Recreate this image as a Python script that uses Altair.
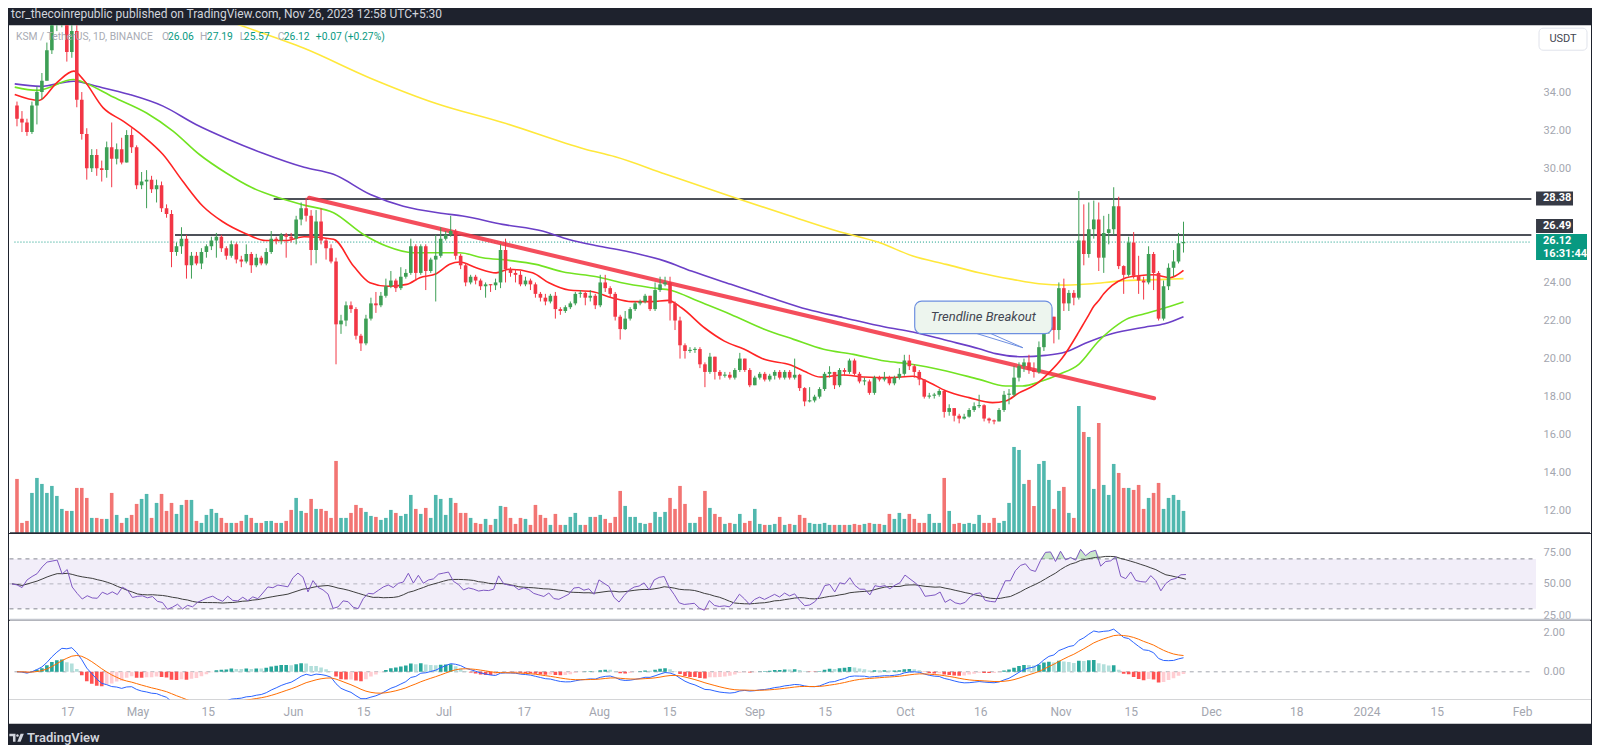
import numpy as np
import pandas as pd
import altair as alt
from datetime import datetime, timedelta, timezone

BASE = datetime(2023, 4, 6, tzinfo=timezone.utc)


def ms(d):
    return int((BASE + timedelta(days=float(d))).timestamp() * 1000)


# ---------------- data ----------------
first_open = 33.3
closes = [
    32.6, 32.4, 31.9, 33.3, 34.0, 34.6, 36.2, 37.6, 37.9, 38.2,
    36.1, 37.2, 33.6, 31.8, 30.0, 30.7, 30.0, 29.9, 31.1, 30.5,
    31.0, 30.3, 31.75, 31.1, 29.1, 29.3, 29.4, 28.9, 29.1, 27.9,
    27.6, 25.6, 25.9, 26.3, 24.9, 25.4, 25.0, 25.6, 25.9, 26.2,
    26.4, 25.8, 25.4, 26.0, 25.2, 25.1, 25.5, 24.9, 25.3, 25.0,
    25.6, 26.3, 26.2, 26.5, 26.4, 26.3, 27.3, 27.9, 27.5, 25.7,
    27.2, 26.2, 25.8, 25.1, 21.8, 22.0, 22.8, 22.6, 21.2, 20.8,
    22.1, 22.9, 22.8, 23.3, 23.8, 24.1, 23.7, 24.3, 24.5, 25.9,
    24.5, 25.9, 24.6, 25.2, 25.4, 26.3, 26.5, 26.7, 25.4, 24.9,
    24.0, 24.3, 24.1, 23.8, 23.9, 23.85, 24.0, 25.7, 24.7, 24.5,
    24.4, 23.9, 24.1, 23.9, 23.4, 23.2, 23.0, 23.3, 22.6, 22.5,
    22.7, 22.9, 23.4, 23.45, 23.2, 23.3, 22.8, 24.0, 23.7, 23.4,
    22.2, 21.55, 22.1, 22.6, 22.9, 23.0, 23.3, 22.6, 23.6, 23.9,
    24.0, 22.9, 22.0, 20.7, 20.4, 20.45, 20.5, 19.7, 19.3, 20.1,
    19.3, 19.1, 19.15, 19.0, 19.4, 20.0, 19.4, 18.6, 19.0, 19.2,
    18.9, 19.1, 19.3, 19.0, 19.3, 19.0, 19.15, 18.45, 17.75, 17.8,
    18.0, 18.4, 19.2, 19.3, 18.6, 19.4, 19.3, 19.9, 19.2, 18.8,
    18.8, 18.2, 19.0, 18.9, 19.0, 18.7, 19.0, 19.2, 19.9, 19.6,
    19.3, 18.9, 18.0, 18.05, 18.1, 18.3, 17.2, 17.4, 17.0, 16.85,
    16.95, 17.3, 17.5, 17.55, 16.85, 16.75, 16.7, 17.3, 18.1, 18.1,
    19.0, 19.6, 19.8, 19.4, 19.3, 20.6, 22.1, 22.2, 21.5, 23.7,
    22.9, 23.45, 23.2, 26.2, 25.5, 26.8, 27.3, 25.3, 26.6, 26.8,
    28.0, 24.86, 24.4, 26.1, 24.35, 24.1, 24.0, 25.5, 24.5, 22.1,
    23.8, 24.77, 25.1, 26.06, 26.12,
]
highs = [
    33.5, 33.0, 32.6, 33.5, 34.3, 35.0, 36.6, 38.5, 38.8, 39.0,
    38.5, 38.0, 37.6, 34.0, 32.1, 31.0, 31.0, 30.4, 31.4, 32.4,
    31.3, 31.6, 32.0, 32.1, 31.2, 29.8, 29.9, 29.6, 29.4, 29.3,
    28.1, 27.8, 26.1, 26.9, 26.5, 25.6, 25.6, 25.8, 26.0, 26.4,
    26.6, 26.5, 25.9, 26.2, 26.1, 25.4, 26.0, 25.6, 25.5, 25.4,
    25.8, 26.7, 26.4, 26.6, 26.6, 26.6, 27.5, 28.2, 28.45, 27.8,
    27.8, 27.9, 26.3, 26.0, 25.3, 22.3, 23.0, 23.0, 22.7, 21.3,
    22.3, 23.2, 23.5, 23.5, 24.2, 24.6, 24.2, 24.8, 24.7, 26.3,
    26.0, 26.0, 26.0, 25.3, 26.5, 26.9, 26.7, 27.5, 26.8, 25.5,
    25.0, 24.4, 24.4, 24.2, 24.0, 23.9, 24.2, 26.0, 26.3, 24.8,
    24.7, 24.6, 24.3, 24.2, 24.0, 23.5, 23.4, 23.4, 23.5, 22.7,
    22.8, 23.0, 23.5, 23.6, 23.5, 23.6, 23.4, 24.4, 24.4, 23.8,
    23.5, 22.3, 22.5, 22.7, 23.0, 23.1, 23.4, 23.3, 24.0, 24.3,
    24.3, 24.3, 23.0, 22.2, 20.8, 20.6, 20.6, 20.6, 19.8, 20.3,
    20.1, 19.4, 19.3, 19.3, 19.5, 20.3, 20.0, 19.5, 19.1, 19.3,
    19.3, 19.2, 19.4, 19.4, 19.4, 19.4, 20.0, 19.2, 18.5, 18.5,
    18.1, 18.5, 19.3, 19.6, 19.3, 19.5, 19.5, 20.0, 20.0, 19.3,
    19.0, 18.9, 19.1, 19.1, 19.3, 19.1, 19.1, 19.5, 20.2, 20.2,
    19.7, 19.4, 18.9, 18.2, 18.2, 18.4, 18.3, 17.6, 17.4, 17.1,
    17.1, 17.4, 17.7, 18.1, 17.6, 16.9, 16.8, 17.4, 18.3, 18.4,
    19.6, 19.8, 20.0, 20.2, 19.8, 20.9, 22.3, 22.7, 22.2, 24.0,
    24.2, 23.6, 23.6, 28.8, 28.1, 28.2, 28.3, 28.2, 27.5, 27.6,
    29.0, 28.5, 24.9, 26.4, 26.65, 25.4, 24.3, 25.9, 25.6, 24.6,
    24.1, 25.0, 25.7, 26.6, 27.19,
]
lows = [
    32.2, 31.9, 31.7, 31.8, 32.3, 33.6, 34.6, 36.0, 37.2, 37.4,
    35.6, 35.8, 33.2, 31.5, 29.4, 29.8, 29.6, 29.3, 29.5, 29.0,
    30.2, 30.2, 30.3, 30.8, 28.9, 28.9, 27.9, 28.7, 28.2, 27.7,
    27.4, 24.8, 25.4, 25.5, 24.2, 24.2, 24.9, 24.7, 25.3, 25.7,
    25.3, 25.6, 25.2, 25.3, 25.0, 24.8, 25.0, 24.5, 24.8, 24.9,
    24.9, 25.5, 26.0, 26.0, 25.3, 26.1, 26.0, 27.0, 27.2, 24.9,
    25.0, 26.0, 25.2, 25.0, 19.7, 21.3, 21.7, 22.4, 21.0, 20.4,
    20.7, 22.0, 22.4, 22.7, 23.2, 23.7, 23.5, 23.6, 24.2, 24.4,
    24.1, 24.4, 23.6, 24.5, 23.0, 25.3, 26.2, 26.4, 25.2, 24.7,
    23.8, 23.9, 23.9, 23.6, 23.2, 23.5, 23.6, 23.7, 24.0, 24.3,
    24.0, 23.8, 23.8, 23.6, 23.2, 23.0, 22.8, 22.9, 22.1, 22.3,
    22.4, 22.6, 22.8, 23.2, 22.8, 23.0, 22.6, 22.7, 23.5, 23.2,
    22.0, 21.0, 21.5, 22.0, 22.5, 22.8, 22.9, 22.5, 22.5, 23.5,
    23.8, 22.0, 21.5, 20.0, 20.0, 20.3, 20.3, 19.5, 18.5, 19.2,
    18.9, 18.9, 19.0, 18.9, 18.9, 19.3, 19.3, 18.5, 18.6, 18.9,
    18.8, 18.8, 18.9, 18.9, 18.9, 18.9, 18.9, 18.3, 17.5, 17.7,
    17.7, 17.9, 18.3, 19.0, 18.4, 18.5, 19.1, 19.2, 19.1, 18.7,
    18.6, 18.1, 18.1, 18.8, 18.8, 18.6, 18.6, 18.9, 19.1, 19.4,
    19.0, 18.6, 17.9, 17.9, 17.9, 18.0, 16.9, 17.0, 16.7, 16.6,
    16.8, 16.9, 17.2, 17.4, 16.7, 16.6, 16.55, 16.7, 17.2, 17.6,
    18.0, 18.8, 19.3, 19.2, 19.0, 19.2, 20.4, 21.3, 20.8, 21.0,
    22.5, 22.5, 22.8, 23.1, 24.9, 25.3, 26.3, 24.6, 24.5, 26.0,
    26.5, 24.7, 23.4, 24.3, 24.2, 23.4, 23.1, 23.9, 23.6, 22.0,
    22.0, 23.6, 24.3, 25.0, 25.57,
]
volumes = [
    54, 10, 12, 40, 55, 49, 40, 47, 37, 24,
    22, 22, 45, 45, 35, 15, 15, 14, 14, 40,
    18, 10, 15, 18, 29, 34, 39, 15, 30, 39,
    22, 30, 19, 28, 33, 33, 12, 10, 18, 24,
    20, 15, 10, 10, 10, 12, 18, 15, 10, 10,
    12, 12, 10, 10, 12, 23, 35, 22, 20, 34,
    24, 24, 22, 15, 72, 15, 15, 20, 28, 25,
    21, 17, 16, 13, 15, 23, 20, 17, 19, 38,
    24, 19, 25, 15, 38, 34, 18, 35, 30, 20,
    20, 15, 10, 9, 14, 8, 14, 27, 26, 15,
    9, 15, 14, 8, 28, 18, 15, 8, 19, 8,
    8, 16, 20, 8, 8, 16, 16, 18, 14, 10,
    16, 42, 27, 16, 16, 10, 9, 10, 21, 16,
    21, 35, 24, 47, 29, 10, 10, 16, 42, 25,
    19, 16, 9, 10, 9, 19, 10, 12, 24, 9,
    8, 8, 9, 16, 8, 9, 8, 18, 15, 10,
    9, 9, 10, 8, 8, 8, 8, 8, 9, 8,
    9, 10, 9, 9, 8, 19, 14, 20, 14, 19,
    14, 10, 10, 19, 10, 10, 55, 22, 9, 10,
    9, 10, 9, 18, 10, 10, 15, 10, 12, 30,
    86, 83, 49, 53, 27, 69, 72, 53, 24, 42,
    46, 20, 15, 127, 101, 96, 44, 110, 48, 38,
    69, 60, 45, 45, 43, 48, 24, 35, 40, 50,
    24, 35, 38, 33, 22,
]

ema20_days = [-0.45, 4.4, 8, 11.4, 13.3, 17.3, 21.3, 25.3, 29.3, 33.3, 37.3, 41.2, 45.9, 49.9, 53.8,
              57.6, 63.5, 67.5, 70.8, 74.2, 78.2, 80.8, 84.1, 86.8, 88.8, 92.1, 96.1, 98.7, 103.4,
              106.7, 110.7, 115.3, 119.3, 123.3, 127.3, 130.6, 133.3, 137.9, 141.9, 145.9, 149.9,
              155.2, 157.8, 161.2, 165.8, 169.8, 175, 179.7, 183.1, 186.4, 191, 195.7, 198.3, 201,
              204.3, 207, 209.6, 213, 214, 215, 216, 217, 218, 219.7, 222, 225, 228, 231.3, 234]
ema20_vals = [33.87, 33.56, 34.5, 35.1, 34.66, 33.17, 32.47, 31.69, 30.72, 29.3, 28.0, 27.2, 26.56, 26.2, 26.2,
              26.4, 26.27, 24.86, 23.98, 23.8, 23.9, 24.25, 24.46, 24.95, 25.07, 24.77, 24.5, 24.69, 24.51,
              23.98, 23.6, 23.52, 23.2, 22.99, 22.99, 23.06, 22.67, 21.62, 20.92, 20.49, 19.96,
              19.66, 19.35, 19.03, 19.14, 19.03, 19.0, 19.07, 18.73, 18.3, 17.95, 17.69, 17.77, 18.2,
              18.63, 19.25, 20.0, 21.4, 21.85, 22.3, 22.75, 23.05, 23.4, 23.85, 24.2, 24.35, 24.4, 24.25, 24.63]
ema50_days = [-0.45, 4.05, 11.35, 14, 19.3, 26, 31.3, 36.6, 41.9, 47.2, 52.5, 57.6, 63.5, 69.5, 74.2,
              79.5, 84.8, 88.8, 93.4, 98.7, 104.1, 109.4, 116.3, 121.3, 127.3, 131.3, 136.6, 143.2,
              149.9, 155.8, 161.8, 167.8, 174.1, 179.1, 186.4, 193, 198.3, 201.7, 205.6, 209, 213,
              216.9, 220.9, 222.5, 226.2, 229.5, 234]
ema50_vals = [34.26, 34.09, 34.66, 34.44, 33.74, 32.9, 31.95, 30.72, 29.76, 28.97, 28.45, 28.06, 27.66, 26.52, 25.9,
              25.56, 25.56, 25.56, 25.3, 25.16, 24.95, 24.56, 24.3, 23.98, 23.72, 23.58, 23.02, 22.32,
              21.54, 21.01, 20.49, 20.22, 19.87, 19.72, 19.35, 18.91, 18.56, 18.56, 18.82, 19.17, 19.7,
              20.9, 21.8, 22.06, 22.35, 22.6, 22.97]
ema100_days = [-0.45, 4.7, 11.35, 16, 22.6, 29.3, 35.9, 42.6, 49.2, 57.6, 63.5, 70.9, 77.5, 85.5, 89.4,
               97.4, 105.4, 110.7, 116.3, 122, 130, 135.3, 143.2, 151.2, 158.5, 165.8, 174.1, 179.7,
               186.4, 193, 196.3, 201.7, 206.3, 210.3, 214.3, 219.6, 226.2, 230.2, 234]
ema100_vals = [34.43, 34.3, 34.57, 34.3, 33.87, 33.26, 32.3, 31.5, 30.8, 30.05, 29.68, 28.62, 28.0, 27.62, 27.49,
               27.05, 26.7, 26.26, 25.93, 25.65, 25.12, 24.6, 23.9, 23.2, 22.59, 22.15, 21.66, 21.4,
               20.96, 20.52, 20.26, 20.1, 20.17, 20.35, 20.8, 21.3, 21.65, 21.83, 22.2]
ema200_days = [30, 44.2, 57.6, 70.9, 84.1, 97.4, 114, 120, 130, 144, 155, 164.5, 173.1, 179.7, 186.4,
               193, 199.7, 205, 210.3, 215.6, 220.9, 230.2, 234]
ema200_vals = [38.9, 37.56, 36.3, 34.73, 33.4, 32.4, 31.0, 30.6, 29.7, 28.45, 27.5, 26.7, 26.08, 25.39, 24.95,
               24.51, 24.16, 23.93, 23.86, 23.93, 24.07, 24.16, 24.2]

level_start_days = [51.5, 31.7]
level_vals = [28.38, 26.49]
trend_days = [58.6, 228.1]
trend_vals = [28.45, 17.92]
note_days = [180.08, 207.63]
note_vals = [23.02, 21.31]
note_tail_days = [192.6, 195.4, 201.8]
note_tail_vals = [21.31, 21.31, 20.57]

x_tick_dates = ["2023-04-17", "2023-05-01", "2023-05-15", "2023-06-01", "2023-06-15", "2023-07-01",
                "2023-07-17", "2023-08-01", "2023-08-15", "2023-09-01", "2023-09-15", "2023-10-01",
                "2023-10-16", "2023-11-01", "2023-11-15", "2023-12-01", "2023-12-18", "2024-01-01",
                "2024-01-15", "2024-02-01"]
price_ticks = [12, 14, 16, 18, 20, 22, 24, 30, 32, 34]

# ---------------- derived tables ----------------
n = len(closes)
opens = [first_open] + closes[:-1]
UP, DN = "#3d9f55", "#f23645"
W = 1583
DAY_LEFT, DAY_RIGHT, DAY_EDGE = -0.598, 314.74, 303.78
LINE_START = -0.5

cdf = pd.DataFrame({"t": [ms(d) for d in range(n)], "o": opens, "c": closes,
                    "h": highs, "l": lows, "v": volumes})
cdf["h"] = cdf[["h", "o", "c"]].max(axis=1)
cdf["l"] = cdf[["l", "o", "c"]].min(axis=1)
cdf["bl"] = cdf[["o", "c"]].min(axis=1)
cdf["bh"] = np.maximum(cdf[["o", "c"]].max(axis=1), cdf["bl"] + 0.06)
cdf["col"] = np.where(cdf["c"] >= cdf["o"], UP, DN)
cdf["vcol"] = np.where(cdf["c"] >= cdf["o"], "#26a69a", "#ef5350")

# RSI 14 (Wilder) and its 14 SMA
cs = np.array(closes, dtype=float)
ag, al = 0.45, 0.45
rsi = []
for i in range(n):
    if i > 0:
        dlt = cs[i] - cs[i - 1]
        ag = (ag * 13 + max(dlt, 0.0)) / 14
        al = (al * 13 + max(-dlt, 0.0)) / 14
    rsi.append(100 - 100 / (1 + ag / al))
rdf = pd.DataFrame({"t": cdf["t"], "rsi": rsi})
rdf["rma"] = rdf["rsi"].rolling(14, min_periods=1).mean()
rdf["ob"] = np.maximum(rdf["rsi"], 70)
rdf["os"] = np.minimum(rdf["rsi"], 30)
rdf["y70"] = 70
rdf["y30"] = 30

# MACD 12/26/9
s = pd.Series(cs)
macd = s.ewm(span=12, adjust=False).mean() - s.ewm(span=26, adjust=False).mean()
sig = macd.ewm(span=9, adjust=False).mean()
hist = macd - sig
prev = hist.shift(1).fillna(0)
hcol = np.where(hist >= 0, np.where(hist >= prev, "#26a69a", "#b2dfdb"),
                np.where(hist < prev, "#ff5252", "#ffcdd2"))
mdf = pd.DataFrame({"t": cdf["t"], "macd": macd, "sig": sig, "hist": hist, "hc": hcol})


def ma_df(days, vals):
    return pd.DataFrame({"t": [ms(d) for d in days], "v": vals})


ONE = pd.DataFrame({"k": [0]})

# ---------------- scales / axes ----------------
XS = alt.Scale(type="utc", domain=[ms(DAY_LEFT), ms(DAY_RIGHT)], nice=False)
YP = alt.Scale(domain=[10.845, 37.51], nice=False, zero=False)
YV = alt.Scale(domain=[0, 508], nice=False, zero=True)
YR = alt.Scale(domain=[21.2, 90], nice=False, zero=False)
YM = alt.Scale(domain=[-1.436, 2.615], nice=False, zero=False)

AXS = dict(domain=False, ticks=False, grid=False, labelColor="#a3a6af", labelFontSize=11,
           labelFont="Roboto", title=None, labelPadding=7, offset=-55, orient="right",
           format=".2f", labelOverlap=False)
PA = alt.Axis(values=price_ticks, **AXS)
RA = alt.Axis(values=[25, 50, 75], **AXS)
MAX = alt.Axis(values=[0, 2], **AXS)


def X(field="t"):
    return alt.X(f"{field}:T", scale=XS, axis=None)


def YPr(field):
    return alt.Y(f"{field}:Q", scale=YP, axis=PA)


# ---------------- main price panel ----------------
lv = pd.DataFrame({"x1": [ms(d) for d in level_start_days], "x2": [ms(DAY_EDGE)] * 2, "p": level_vals})
levels = alt.Chart(lv).mark_rule(color="#131722", strokeWidth=1.6).encode(
    x=X("x1"), x2="x2:T", y=YPr("p"))
cur = alt.Chart(pd.DataFrame({"x1": [ms(LINE_START)], "x2": [ms(DAY_EDGE)], "p": [closes[-1]]})).mark_rule(
    color="#089981", strokeWidth=1, strokeDash=[1, 2]).encode(x=X("x1"), x2="x2:T", y=YPr("p"))


def ma_line(days, vals, color):
    return alt.Chart(ma_df(days, vals)).mark_line(
        color=color, strokeWidth=1.6, interpolate="monotone", clip=True).encode(x=X(), y=YPr("v"))


yellow = ma_line(ema200_days, ema200_vals, "#ffe83b")
purple = ma_line(ema100_days, ema100_vals, "#6b3fc7")
green = ma_line(ema50_days, ema50_vals, "#72e322")
red = ma_line(ema20_days, ema20_vals, "#ff2424")

trend = alt.Chart(pd.DataFrame({"x1": [ms(trend_days[0])], "x2": [ms(trend_days[1])],
                                "y1": [trend_vals[0]], "y2": [trend_vals[1]]})).mark_rule(
    color="#f23645", strokeWidth=4, opacity=0.88, strokeCap="round").encode(
    x=X("x1"), x2="x2:T", y=YPr("y1"), y2="y2:Q")

wick = alt.Chart(cdf).mark_rule(strokeWidth=1, clip=True).encode(
    x=X(), y=YPr("l"), y2="h:Q", color=alt.Color("col:N", scale=None))
body = alt.Chart(cdf).mark_bar(size=3.6, clip=True).encode(
    x=X(), y=YPr("bl"), y2="bh:Q", color=alt.Color("col:N", scale=None))

note_box = alt.Chart(pd.DataFrame({"x1": [ms(note_days[0])], "x2": [ms(note_days[1])],
                                   "y1": [note_vals[0]], "y2": [note_vals[1]]})).mark_rect(
    fill="#edf5ee", stroke="#6d8fe0", strokeWidth=1.2, cornerRadius=7).encode(
    x=X("x1"), x2="x2:T", y=YPr("y1"), y2="y2:Q")
tail = alt.Chart(pd.DataFrame({"x1": [ms(note_tail_days[0]), ms(note_tail_days[1])],
                               "x2": [ms(note_tail_days[2])] * 2,
                               "y1": note_tail_vals[:2], "y2": [note_tail_vals[2]] * 2})).mark_rule(
    color="#6d8fe0", strokeWidth=1).encode(x=X("x1"), x2="x2:T", y=YPr("y1"), y2="y2:Q")
note_text = alt.Chart(pd.DataFrame({"x": [ms(sum(note_days) / 2)], "y": [sum(note_vals) / 2]})).mark_text(
    text="Trendline Breakout", fontSize=13, fontStyle="italic", font="Roboto", color="#434651",
    align="center", baseline="middle").encode(x=X("x"), y=YPr("y"))

GRAY, GREEN = "#a8abb4", "#089981"
header_parts = [(7, "KSM / TetherUS, 1D, BINANCE", GRAY), (153, "O", GRAY), (159, "26.06", GREEN),
                (191, "H", GRAY), (198, "27.19", GREEN), (231, "L", GRAY), (235, "25.57", GREEN),
                (269, "C", GRAY), (275, "26.12", GREEN), (307, "+0.07 (+0.27%)", GREEN)]
header = [alt.Chart(ONE).mark_text(text=t, color=c, fontSize=10.3, font="Roboto", align="left",
                                   baseline="middle").encode(x=alt.value(px), y=alt.value(12))
          for px, t, c in header_parts]


def tag(yc, x2, h, color):
    return alt.Chart(ONE).mark_rect(color=color).encode(
        x=alt.value(1528), x2=alt.value(x2), y=alt.value(yc - h / 2), y2=alt.value(yc + h / 2))


def tag_text(y, text):
    return alt.Chart(ONE).mark_text(text=text, color="white", fontSize=11, fontWeight="bold",
                                    font="Roboto", align="left", baseline="middle").encode(
        x=alt.value(1535), y=alt.value(y))


tags = [tag(173.3, 1565, 14, "#363a45"), tag_text(173.3, f"{level_vals[0]:.2f}"),
        tag(201, 1565, 14, "#363a45"), tag_text(201, f"{level_vals[1]:.2f}"),
        tag(222, 1579, 26, "#089981"), tag_text(216, f"{closes[-1]:.2f}"), tag_text(229, "16:31:44")]
usdt = [alt.Chart(ONE).mark_rect(fill="white", stroke="#e0e3eb", strokeWidth=1, cornerRadius=4).encode(
            x=alt.value(1531), x2=alt.value(1579), y=alt.value(3), y2=alt.value(25)),
        alt.Chart(ONE).mark_text(text="USDT", color="#434651", fontSize=11, font="Roboto").encode(
            x=alt.value(1555), y=alt.value(14))]
sep1 = alt.Chart(ONE).mark_rule(color="#2a2e39", strokeWidth=1.5).encode(
    x=alt.value(1), x2=alt.value(W - 1), y=alt.value(508))

vol = alt.Chart(cdf).mark_bar(size=3.6, opacity=0.8).encode(
    x=X(), y=alt.Y("v:Q", scale=YV, axis=None), color=alt.Color("vcol:N", scale=None))

price = alt.layer(levels, cur, yellow, purple, green, trend, red, wick, body,
                  note_box, tail, note_text, *header, *tags, *usdt, sep1)
main = alt.layer(vol, price).resolve_scale(y="independent").properties(width=W, height=508)

# ---------------- RSI panel ----------------
band = alt.Chart(pd.DataFrame({"x1": [ms(DAY_LEFT)], "x2": [ms(DAY_EDGE)], "y1": [30], "y2": [70]})).mark_rect(
    color="#7e57c2", opacity=0.1).encode(x=X("x1"), x2="x2:T", y=alt.Y("y1:Q", scale=YR, axis=RA), y2="y2:Q")
rl = alt.Chart(pd.DataFrame({"x1": [ms(LINE_START)] * 3, "x2": [ms(DAY_EDGE)] * 3, "y": [70, 50, 30],
                             "o": [0.9, 0.5, 0.9]})).mark_rule(
    color="#787b86", strokeWidth=1, strokeDash=[4, 4]).encode(
    x=X("x1"), x2="x2:T", y=alt.Y("y:Q", scale=YR, axis=RA), opacity=alt.Opacity("o:Q", scale=None))
obfill = alt.Chart(rdf).mark_area(color="#4caf50", opacity=0.3, clip=True).encode(
    x=X(), y=alt.Y("ob:Q", scale=YR, axis=RA), y2="y70:Q")
osfill = alt.Chart(rdf).mark_area(color="#f23645", opacity=0.3, clip=True).encode(
    x=X(), y=alt.Y("os:Q", scale=YR, axis=RA), y2="y30:Q")
rline = alt.Chart(rdf).mark_line(color="#7e57c2", strokeWidth=1, clip=True).encode(
    x=X(), y=alt.Y("rsi:Q", scale=YR, axis=RA))
rmal = alt.Chart(rdf).mark_line(color="#3c3c3c", strokeWidth=1, clip=True).encode(
    x=X(), y=alt.Y("rma:Q", scale=YR, axis=RA))
sep2 = alt.Chart(ONE).mark_rule(color="#c4c7cf", strokeWidth=2).encode(
    x=alt.value(1), x2=alt.value(W - 1), y=alt.value(86))
rsi_panel = alt.layer(band, rl, obfill, osfill, rmal, rline, sep2).properties(width=W, height=86)

# ---------------- MACD panel ----------------
zl = alt.Chart(pd.DataFrame({"x1": [ms(LINE_START)], "x2": [ms(DAY_EDGE)], "y": [0]})).mark_rule(
    color="#a3a6af", strokeWidth=1, strokeDash=[4, 4]).encode(
    x=X("x1"), x2="x2:T", y=alt.Y("y:Q", scale=YM, axis=MAX))
hbar = alt.Chart(mdf).mark_bar(size=3.6, clip=True).encode(
    x=X(), y=alt.Y("hist:Q", scale=YM, axis=MAX), color=alt.Color("hc:N", scale=None))
mline = alt.Chart(mdf).mark_line(color="#2962ff", strokeWidth=1, clip=True).encode(
    x=X(), y=alt.Y("macd:Q", scale=YM, axis=MAX))
sline = alt.Chart(mdf).mark_line(color="#ff6d00", strokeWidth=1, clip=True).encode(
    x=X(), y=alt.Y("sig:Q", scale=YM, axis=MAX))
macd_panel = alt.layer(zl, hbar, mline, sline).properties(width=W, height=79)

# ---------------- time axis + footer ----------------
tick_ms = [int(pd.Timestamp(d, tz="UTC").timestamp() * 1000) for d in x_tick_dates]
label_expr = ("utcdate(datum.value) == 1 ? (utcmonth(datum.value) == 0 ? utcFormat(datum.value, '%Y') "
              ": utcFormat(datum.value, '%b')) : utcFormat(datum.value, '%-d')")
xaxis = alt.Axis(values=tick_ms, labelExpr=label_expr, orient="bottom", offset=-24, domain=False,
                 ticks=False, tickSize=0, grid=False, labelPadding=12, labelBaseline="middle",
                 labelColor="#a3a6af", labelFontSize=12, labelFont="Roboto", title=None,
                 labelOverlap=False, labelFlush=False)
axis_base = alt.Chart(pd.DataFrame({"t": tick_ms})).mark_point(opacity=0).encode(
    x=alt.X("t:T", scale=XS, axis=xaxis))
logo_path = ("M-1,-0.55 L-0.15,-0.55 L-0.15,0.55 L-0.5,0.55 L-0.5,-0.2 L-1,-0.2 Z "
             "M-0.06,-0.32 A0.18,0.18 0 1,0 0.3,-0.32 A0.18,0.18 0 1,0 -0.06,-0.32 Z "
             "M0.55,-0.55 L1,-0.55 L0.55,0.55 L0.1,0.55 Z")
logo = alt.Chart(ONE).mark_point(shape=logo_path, filled=True, size=210, color="#d1d4dc", opacity=1).encode(
    x=alt.value(7.6), y=alt.value(38))
brand = alt.Chart(ONE).mark_text(text="TradingView", color="#d1d4dc", fontSize=13, fontWeight=600,
                                 font="Roboto", align="left", baseline="middle").encode(
    x=alt.value(18), y=alt.value(38))
axis_panel = alt.layer(axis_base, logo, brand).properties(width=W, height=24)

chart = alt.vconcat(main, rsi_panel, macd_panel, axis_panel, spacing=0).properties(
    title=alt.TitleParams(
        text="tcr_thecoinrepublic published on TradingView.com, Nov 26, 2023 12:58 UTC+5:30",
        anchor="start", color="#d1d4dc", fontSize=12, fontWeight="normal", font="Roboto",
        offset=4, dx=2),
    background="#1e222d",
    padding={"left": 0, "top": 0, "right": 1, "bottom": 0},
).configure(font="Roboto").configure_view(strokeWidth=0, fill="white")

chart.save("out.html", embed_options={"renderer": "svg", "actions": False})
